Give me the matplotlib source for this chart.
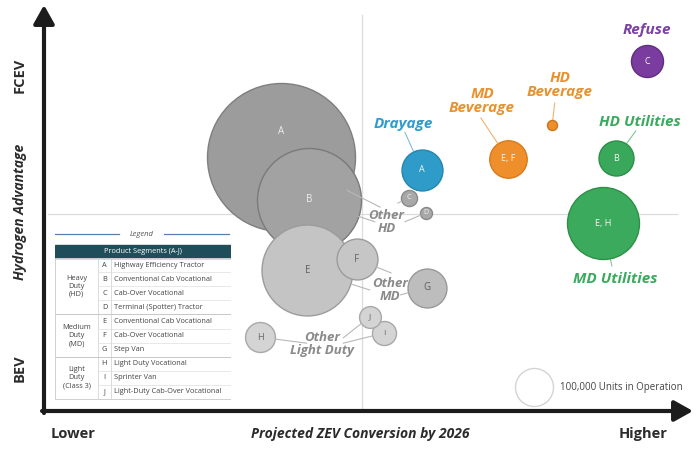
import numpy as np
import matplotlib.pyplot as plt
from matplotlib.patches import Rectangle

plt.rcParams['font.family'] = ['Open Sans', 'DejaVu Sans']

# gray "other" bubbles: x = projected ZEV conversion (0-10), y = hydrogen advantage (0-10)
# units in operation, thousands
other_letters = ['A', 'B', 'C', 'D', 'E', 'F', 'G', 'H', 'I', 'J']
other_x = [3.65, 4.08, 5.62, 5.89, 4.06, 4.82, 5.90, 3.33, 5.24, 5.02]
other_y = [6.26, 5.20, 5.25, 4.88, 3.47, 3.74, 3.03, 1.82, 1.92, 2.32]
other_units = [1517, 749, 18, 10, 573, 116, 105, 62, 40, 33]

# highlighted applications
app_names = ['Drayage', 'MD\nBeverage', 'HD\nBeverage', 'HD Utilities', 'MD Utilities', 'Refuse']
app_letters = ['A', 'E, F', '', 'B', 'E, H', 'C']
app_x = [5.82, 7.15, 7.83, 8.81, 8.61, 9.29]
app_y = [5.94, 6.21, 7.04, 6.23, 4.63, 8.62]
app_units = [116, 97, 7, 85, 359, 71]

ref_units = 100

# legend table
group_names = ['Heavy\nDuty\n(HD)', 'Medium\nDuty\n(MD)', 'Light\nDuty\n(Class 3)']
group_sizes = [4, 3, 3]
segment_names = ['Highway Efficiency Tractor', 'Conventional Cab Vocational',
                 'Cab-Over Vocational', 'Terminal (Spotter) Tractor',
                 'Conventional Cab Vocational', 'Cab-Over Vocational', 'Step Van',
                 'Light Duty Vocational', 'Sprinter Van', 'Light-Duty Cab-Over Vocational']

W, H, DPI = 699, 449, 100
REF_R_PX = 19  # radius of 100k units bubble in pixels


def radius_pt(u):
    return REF_R_PX * np.sqrt(u / ref_units) * 72 / DPI


def msize(u):
    return (2 * radius_pt(u)) ** 2


fig = plt.figure(figsize=(W / DPI, H / DPI), dpi=DPI)
fig.patch.set_facecolor('white')
ax = fig.add_axes([44 / W, 1 - 411 / H, 649 / W, 406 / H])
ax.set_xlim(0, 10)
ax.set_ylim(0, 10)
ax.axis('off')

# quadrant lines
ax.plot([4.9, 4.9], [0.08, 9.75], color='#dcdcdc', lw=0.9, zorder=1)
ax.plot([0.06, 9.75], [4.85, 4.85], color='#dcdcdc', lw=0.9, zorder=1)

# axis arrows
arr = dict(arrowstyle='-|>,head_length=0.75,head_width=0.42', lw=3, color='#1c1c1c',
           shrinkA=0, shrinkB=0, mutation_scale=15)
ax.annotate('', xy=(10, 0), xytext=(-0.03, 0), arrowprops=arr, annotation_clip=False)
ax.annotate('', xy=(0, 10), xytext=(0, -0.05), arrowprops=arr, annotation_clip=False)

# gray bubbles
other_face = ['#9c9c9c', '#a2a2a2', '#a8a8a8', '#a8a8a8', '#c4c4c4', '#c6c6c6',
              '#bdbdbd', '#d4d4d4', '#d4d4d4', '#d4d4d4']
other_edge = ['#7f7f7f', '#7a7a7a', '#8a8a8a', '#8a8a8a', '#9c9c9c', '#9c9c9c',
              '#999999', '#a8a8a8', '#a8a8a8', '#a8a8a8']
other_txt = ['#eeeeee', '#eeeeee', '#f2f2f2', '#f2f2f2', '#606060', '#666666',
             '#606060', '#666666', '#666666', '#666666']
other_fs = [7, 7, 5.5, 5, 7, 7, 7, 6.5, 6, 6]
for i in range(len(other_letters)):
    ax.scatter(other_x[i], other_y[i], s=msize(other_units[i]), color=other_face[i],
               edgecolor=other_edge[i], linewidth=1, zorder=2 + i)
    dy = 18 if other_letters[i] == 'A' else 0
    ax.annotate(other_letters[i], (other_x[i], other_y[i]), xytext=(0, dy),
                textcoords='offset points', ha='center', va='center',
                fontsize=other_fs[i], color=other_txt[i], zorder=2 + i)

# coloured bubbles
app_face = ['#2f9bc9', '#ef8f2c', '#ef8f2c', '#3aa85a', '#3caa5c', '#7a3d9f']
app_edge = ['#2486b0', '#d67a1c', '#c9731a', '#2e9048', '#2e9048', '#5f2d80']
app_txt = ['#2e9ccc', '#e8922e', '#e8922e', '#3aaa5e', '#3aaa5e', '#7b40a3']
for i in range(len(app_names)):
    ax.scatter(app_x[i], app_y[i], s=msize(app_units[i]), color=app_face[i],
               edgecolor=app_edge[i], linewidth=1, zorder=15)
    ax.text(app_x[i], app_y[i], app_letters[i], ha='center', va='center',
            fontsize=6.5, color='#f4f4f4', zorder=16)

# group labels (text, position, colour, size)
labels = [('Drayage', (5.53, 7.07), app_txt[0], 11),
          ('MD\nBeverage', (6.75, 7.63), app_txt[1], 11),
          ('HD\nBeverage', (7.95, 8.03), app_txt[2], 11),
          ('HD Utilities', (9.18, 7.12), app_txt[3], 11),
          ('MD Utilities', (8.80, 3.25), app_txt[4], 11),
          ('Refuse', (9.29, 9.38), app_txt[5], 11),
          ('Other\nHD', (5.28, 4.66), '#8a8a8a', 9.5),
          ('Other\nMD', (5.33, 2.98), '#8a8a8a', 9.5),
          ('Other\nLight Duty', (4.28, 1.65), '#8a8a8a', 9.5)]
for txt, (lx, ly), c, fs in labels:
    ax.text(lx, ly, txt, ha='center', va='center', fontsize=fs, color=c,
            fontweight='bold', fontstyle='italic', linespacing=1.0, zorder=20)

# leader lines: start point near label -> bubble
leaders = [((5.56, 6.87), app_x[0], app_y[0], app_units[0], '#7fbcd8'),
           ((6.73, 7.22), app_x[1], app_y[1], app_units[1], '#f0b070'),
           ((7.87, 7.59), app_x[2], app_y[2], app_units[2], '#f0b070'),
           ((9.12, 6.90), app_x[3], app_y[3], app_units[3], '#7cc890'),
           ((8.75, 3.57), app_x[4], app_y[4], app_units[4], '#7cc890')]
other_links = [((5.18, 5.02), 0), ((5.10, 4.66), 1), ((5.45, 5.12), 2), ((5.56, 4.66), 3),
               ((5.35, 3.40), 5), ((5.02, 2.98), 4), ((5.49, 2.86), 6),
               ((4.05, 1.67), 7), ((4.61, 1.80), 9), ((4.61, 1.67), 8)]
for start, j in other_links:
    leaders.append((start, other_x[j], other_y[j], other_units[j], '#b8b8b8'))
for (sx, sy), bx, by, u, c in leaders:
    ax.annotate('', xy=(bx, by), xytext=(sx, sy),
                arrowprops=dict(arrowstyle='-', color=c, lw=0.8, shrinkA=0,
                                shrinkB=radius_pt(u)), zorder=14)

# size reference
ax.scatter(7.55, 0.59, s=msize(ref_units), color='white', edgecolor='#d4d4d4',
           linewidth=1, zorder=5)
ax.text(7.95, 0.59, '100,000 Units in Operation', ha='left', va='center',
        fontsize=7, color='#444444')

# axis texts
def ftext(px, py, s, **kw):
    fig.text(px / W, 1 - py / H, s, ha='center', va='center', color='#2b2b2b',
             fontweight='bold', **kw)

ftext(20, 75, 'FCEV', rotation=90, fontsize=10.5)
ftext(20, 212, 'Hydrogen Advantage', rotation=90, fontsize=10, fontstyle='italic')
ftext(20, 368, 'BEV', rotation=90, fontsize=10.5)
ftext(73, 434, 'Lower', fontsize=10.5)
ftext(643, 434, 'Higher', fontsize=10.5)
ftext(360, 434, 'Projected ZEV Conversion by 2026', fontsize=10, fontstyle='italic')

# legend table
tax = fig.add_axes([55 / W, 1 - 400 / H, 176 / W, 172 / H])
tax.set_xlim(0, 176)
tax.set_ylim(172, 0)
tax.axis('off')
tax.add_patch(Rectangle((0, 0), 176, 172, color='white', zorder=0))
tax.plot([0, 64], [6, 6], color='#5b7fb0', lw=0.9)
tax.plot([109, 174], [6, 6], color='#5b7fb0', lw=0.9)
tax.text(87, 6, 'Legend', ha='center', va='center', fontsize=5.5, fontstyle='italic',
         color='#555555')
tax.add_patch(Rectangle((0, 17), 176, 13, color='#1f4e5a'))
tax.text(88, 23.5, 'Product Segments (A-J)', ha='center', va='center', fontsize=5.3,
         color='white')
row_h = 14.1
top = 30
tax.add_patch(Rectangle((0, top), 176, row_h * len(segment_names), fill=False,
                        edgecolor='#d0d0d0', lw=0.7))
tax.plot([43, 43], [top, top + row_h * 10], color='#d6d6d6', lw=0.6)
tax.plot([56, 56], [top, top + row_h * 10], color='#d6d6d6', lw=0.6)
for i, name in enumerate(segment_names):
    yc = top + row_h * (i + 0.5)
    tax.text(49.5, yc, other_letters[i], ha='center', va='center', fontsize=5.3,
             color='#444444')
    tax.text(58.5, yc, name, ha='left', va='center', fontsize=5.3, color='#444444')
    if i > 0:
        tax.plot([43, 176], [top + row_h * i] * 2, color='#dedede', lw=0.5)
k = 0
for g, n in zip(group_names, group_sizes):
    tax.text(21.5, top + row_h * (k + n / 2), g, ha='center', va='center', fontsize=5.3,
             color='#444444', linespacing=1.2)
    if k > 0:
        tax.plot([0, 176], [top + row_h * k] * 2, color='#c8c8c8', lw=0.7)
    k += n

plt.savefig('out.png', dpi=DPI)
